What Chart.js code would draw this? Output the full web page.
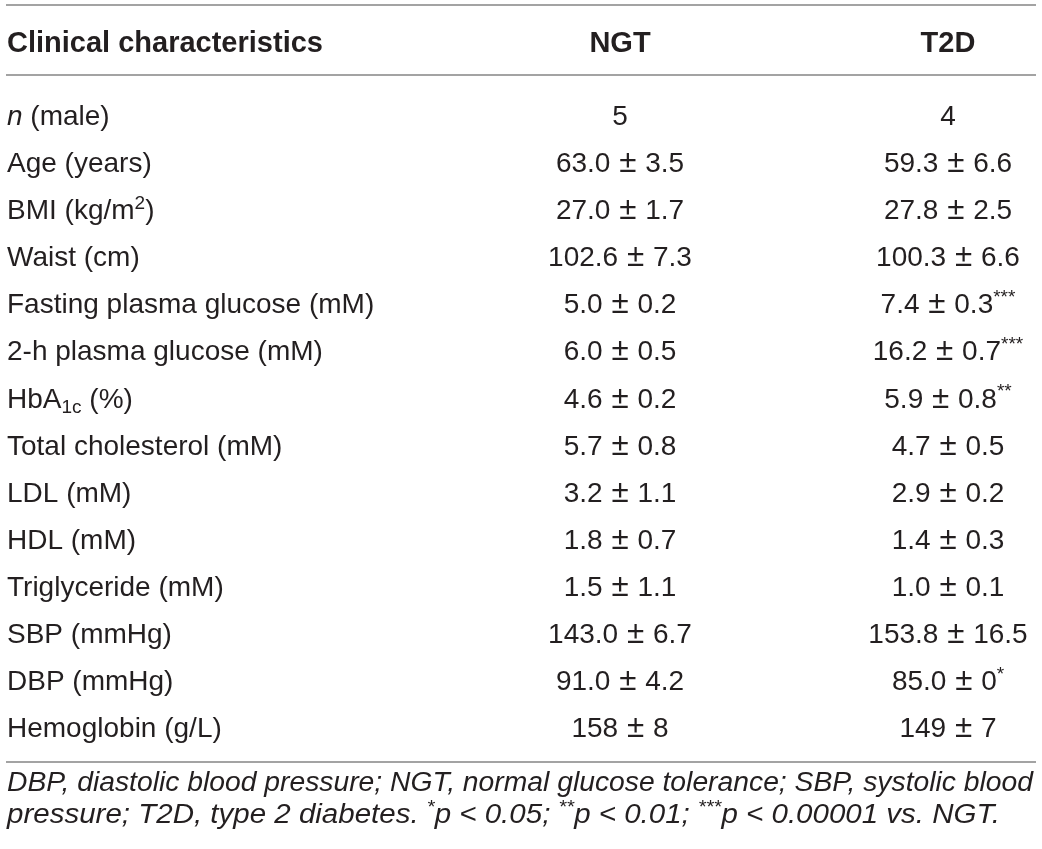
<!DOCTYPE html>
<html>
<head>
<meta charset="utf-8">
<script src="https://cdn.jsdelivr.net/npm/chart.js@4.4.1/dist/chart.umd.min.js"></script>
<style>
  html, body { margin: 0; padding: 0; background: #ffffff; }
  #wrap { width: 1042px; height: 849px; position: relative; }
</style>
</head>
<body>
<div id="wrap"><canvas id="c" width="1042" height="849"></canvas></div>
<script>
// ---- data ----
const headerLabel = 'Clinical characteristics';
const columns = ['NGT', 'T2D'];
const rowLabels = [
  '<i>n</i> (male)',
  'Age (years)',
  'BMI (kg/m<sup>2</sup>)',
  'Waist (cm)',
  'Fasting plasma glucose (mM)',
  '2-h plasma glucose (mM)',
  'HbA<sub>1c</sub> (%)',
  'Total cholesterol (mM)',
  'LDL (mM)',
  'HDL (mM)',
  'Triglyceride (mM)',
  'SBP (mmHg)',
  'DBP (mmHg)',
  'Hemoglobin (g/L)'
];
const ngtValues = ['5', '63.0 ± 3.5', '27.0 ± 1.7', '102.6 ± 7.3', '5.0 ± 0.2', '6.0 ± 0.5', '4.6 ± 0.2',
  '5.7 ± 0.8', '3.2 ± 1.1', '1.8 ± 0.7', '1.5 ± 1.1', '143.0 ± 6.7', '91.0 ± 4.2', '158 ± 8'];
const t2dValues = ['4', '59.3 ± 6.6', '27.8 ± 2.5', '100.3 ± 6.6', '7.4 ± 0.3', '16.2 ± 0.7', '5.9 ± 0.8',
  '4.7 ± 0.5', '2.9 ± 0.2', '1.4 ± 0.3', '1.0 ± 0.1', '153.8 ± 16.5', '85.0 ± 0', '149 ± 7'];
const ngtSig = ['', '', '', '', '', '', '', '', '', '', '', '', '', ''];
const t2dSig = ['', '', '', '', '***', '***', '**', '', '', '', '', '', '*', ''];
const footnoteLines = [
  '<i>DBP, diastolic blood pressure; NGT, normal glucose tolerance; SBP, systolic blood</i>',
  '<i>pressure; T2D, type 2 diabetes. <sup>*</sup>p &lt; 0.05; <sup>**</sup>p &lt; 0.01; <sup>***</sup>p &lt; 0.00001 vs. NGT.</i>'
];

// ---- helpers ----
const plainRows = rowLabels.map(s => s.replace(/<[^>]+>/g, ''));
const FAMILY = '"Liberation Sans", Arial, Helvetica, sans-serif';
const TEXT = '#231f20';

function parseRich(str) {
  const segs = [];
  const re = /<(\/?)(i|sup|sub)>/g;
  let st = { i: false, sup: false, sub: false };
  let last = 0, m;
  while ((m = re.exec(str)) !== null) {
    if (m.index > last) segs.push({ t: str.slice(last, m.index), ...st });
    st = { ...st, [m[2]]: m[1] !== '/' };
    last = re.lastIndex;
  }
  if (last < str.length) segs.push({ t: str.slice(last), ...st });
  segs.forEach(s => { s.t = s.t.replace(/&lt;/g, '<').replace(/&gt;/g, '>'); });
  return segs;
}
function segFont(s, size, weight) {
  let sz = (s.sup || s.sub) ? size * 0.68 : size;
  if (s.big) sz = size * s.big;
  return (s.i ? 'italic ' : '') + (weight || 'normal') + ' ' + sz.toFixed(2) + 'px ' + FAMILY;
}
function segW(ctx, s, size, weight) {
  ctx.font = segFont(s, size, weight);
  return ctx.measureText(s.t).width + (s.pad || 0) * 2;
}
function richWidth(ctx, segs, size, weight) {
  let w = 0;
  segs.forEach(s => { w += segW(ctx, s, size, weight); });
  return w;
}
function drawRich(ctx, segs, x, baseline, size, weight) {
  segs.forEach(s => {
    ctx.font = segFont(s, size, weight);
    let dy = 0;
    if (s.sup) dy = -size * 0.36;
    if (s.sub) dy = size * 0.2;
    ctx.fillText(s.t, x + (s.pad || 0), baseline + dy);
    x += segW(ctx, s, size, weight);
  });
  return x;
}
function valueSegs(v, sig) {
  const parts = v.split(' ± ');
  const segs = [];
  if (parts.length > 1) {
    segs.push({ t: parts[0] + ' ' });
    segs.push({ t: '±', big: 1.12, pad: 1 });
    segs.push({ t: ' ' + parts[1] });
  } else {
    segs.push({ t: parts[0] });
  }
  if (sig) segs.push({ t: sig, sup: true });
  return segs;
}

const tablePlugin = {
  id: 'tablePlugin',
  beforeDraw(chart) {
    const ctx = chart.ctx;
    ctx.save();
    ctx.fillStyle = '#ffffff';
    ctx.fillRect(0, 0, chart.width, chart.height);
    ctx.restore();
  },
  afterDatasetsDraw(chart) {
    const ctx = chart.ctx;
    const yScale = chart.scales.y;
    const xScale = chart.scales.x;
    const BODY = 28, HEAD = 29, FOOT = 27;
    ctx.save();
    ctx.textAlign = 'left';
    ctx.textBaseline = 'alphabetic';

    // rules
    ctx.strokeStyle = '#a3a3a3';
    ctx.lineWidth = 2;
    const rule = y => { ctx.beginPath(); ctx.moveTo(6, y); ctx.lineTo(1036, y); ctx.stroke(); };
    const firstY = yScale.getPixelForValue(0);
    const lastY = yScale.getPixelForValue(rowLabels.length - 1);
    const bottomRule = lastY + 35;
    rule(5);
    rule(firstY - 40);
    rule(bottomRule);

    ctx.fillStyle = TEXT;
    // header
    const headBase = 52;
    ctx.font = 'bold ' + HEAD + 'px ' + FAMILY;
    ctx.fillText(headerLabel, 7, headBase);
    columns.forEach((c, j) => {
      const cx = xScale.getPixelForValue(j);
      const w = ctx.measureText(c).width;
      ctx.fillText(c, cx - w / 2, headBase);
    });

    // row labels
    rowLabels.forEach((lab, i) => {
      const y = yScale.getPixelForValue(i) + BODY * 0.36;
      drawRich(ctx, parseRich(lab), 7, y, BODY);
    });

    // cells, positioned by dataset elements
    const sigs = [ngtSig, t2dSig];
    const vals = [ngtValues, t2dValues];
    chart.data.datasets.forEach((ds, d) => {
      const meta = chart.getDatasetMeta(d);
      meta.data.forEach((pt, i) => {
        const segs = valueSegs(vals[d][i], sigs[d][i]);
        const w = richWidth(ctx, segs, BODY);
        drawRich(ctx, segs, pt.x - w / 2, pt.y + BODY * 0.36, BODY);
      });
    });

    // footnote (each line fitted to its width in the original)
    const targets = [1026, 993];
    const fBase = [bottomRule + 29, bottomRule + 61];
    footnoteLines.map(parseRich).forEach((segs, k) => {
      const w0 = richWidth(ctx, segs, FOOT);
      ctx.save();
      ctx.translate(7, fBase[k]);
      ctx.scale(targets[k] / w0, 1);
      drawRich(ctx, segs, 0, 0, FOOT);
      ctx.restore();
    });
    ctx.restore();
  }
};

const rowCenterFirst = 115, rowCenterLast = 727;
const rowStep = (rowCenterLast - rowCenterFirst) / (rowLabels.length - 1);

new Chart(document.getElementById('c'), {
  type: 'scatter',
  data: {
    datasets: [
      { label: columns[0], data: plainRows.map(r => ({ x: columns[0], y: r })), pointRadius: 0, showLine: false },
      { label: columns[1], data: plainRows.map(r => ({ x: columns[1], y: r })), pointRadius: 0, showLine: false }
    ]
  },
  options: {
    responsive: false,
    animation: false,
    devicePixelRatio: 1,
    layout: {
      padding: {
        left: 620,
        right: 1042 - 948,
        top: rowCenterFirst - rowStep / 2,
        bottom: 849 - (rowCenterLast + rowStep / 2)
      }
    },
    plugins: { legend: { display: false }, tooltip: { enabled: false } },
    scales: {
      x: { type: 'category', labels: columns, offset: false, display: false },
      y: { type: 'category', labels: plainRows, offset: true, display: false }
    }
  },
  plugins: [tablePlugin]
});
</script>
</body>
</html>
